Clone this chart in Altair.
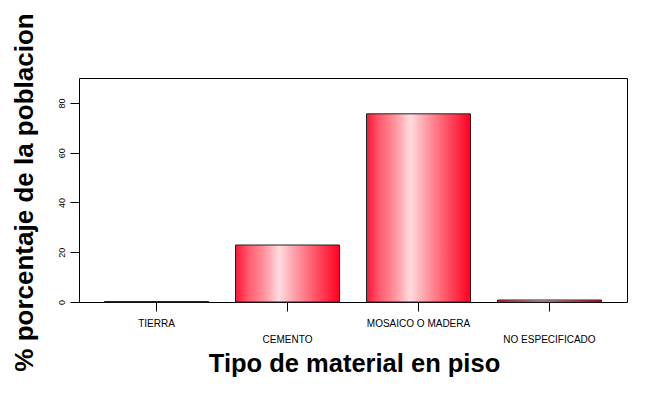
import altair as alt
import pandas as pd

categories = ["TIERRA", "CEMENTO", "MOSAICO O MADERA", "NO ESPECIFICADO"]
values = [0.2, 22.9, 75.6, 0.8]
y_ticks = [0, 20, 40, 60, 80]

df = pd.DataFrame({"material": categories, "pct": values})

FONT = "Liberation Sans"

grad = alt.Gradient(
    gradient="linear",
    x1=0, x2=1, y1=0, y2=0,
    stops=[
        alt.GradientStop(color="#ff1238", offset=0),
        alt.GradientStop(color="#ff5a6c", offset=0.12),
        alt.GradientStop(color="#ff95a0", offset=0.28),
        alt.GradientStop(color="#ffdce0", offset=0.42),
        alt.GradientStop(color="#ff9aa5", offset=0.58),
        alt.GradientStop(color="#ff4f63", offset=0.78),
        alt.GradientStop(color="#ff0022", offset=1),
    ],
)

chart = (
    alt.Chart(df)
    .mark_bar(color=grad, stroke="#222222", strokeWidth=1)
    .encode(
        x=alt.X(
            "material:N",
            sort=categories,
            scale=alt.Scale(paddingInner=0.206, paddingOuter=0.195),
            axis=alt.Axis(
                title="Tipo de material en piso",
                titleFont=FONT,
                titleFontSize=25.5,
                titleFontWeight="bold",
                titleColor="black",
                titleX=275,
                titleY=69,
                titleBaseline="alphabetic",
                titleAlign="center",
                labelFont=FONT,
                labelFontSize=10,
                labelColor="black",
                labelAngle=0,
                labelPadding=7,
                labelLineHeight=16,
                labelExpr="(datum.value == 'CEMENTO' || datum.value == 'NO ESPECIFICADO') ? ['', datum.value] : datum.value",
                tickSize=9,
                tickColor="black",
                domain=False,
                labelOverlap=False,
            ),
        ),
        y=alt.Y(
            "pct:Q",
            scale=alt.Scale(domain=[0, 90], nice=False),
            axis=alt.Axis(
                values=y_ticks,
                title="% porcentaje de la poblacion",
                titleFont=FONT,
                titleFontSize=26,
                titleFontWeight="bold",
                titleColor="black",
                titleAngle=270,
                titleX=-47,
                titleY=114,
                titleBaseline="alphabetic",
                titleAlign="center",
                labelFont=FONT,
                labelFontSize=9,
                labelColor="black",
                labelAngle=270,
                labelAlign="center",
                labelBaseline="bottom",
                labelPadding=4,
                tickSize=9,
                tickColor="black",
                domain=False,
                grid=False,
            ),
        ),
    )
    .properties(
        width=548,
        height=224,
        autosize=alt.AutoSizeParams(type="none"),
        padding={"left": 71, "top": 70, "right": 30, "bottom": 90},
        background="white",
    )
    .configure_view(stroke="black", strokeWidth=1)
)

chart.save("out.html", embed_options={"renderer": "svg", "actions": False})
